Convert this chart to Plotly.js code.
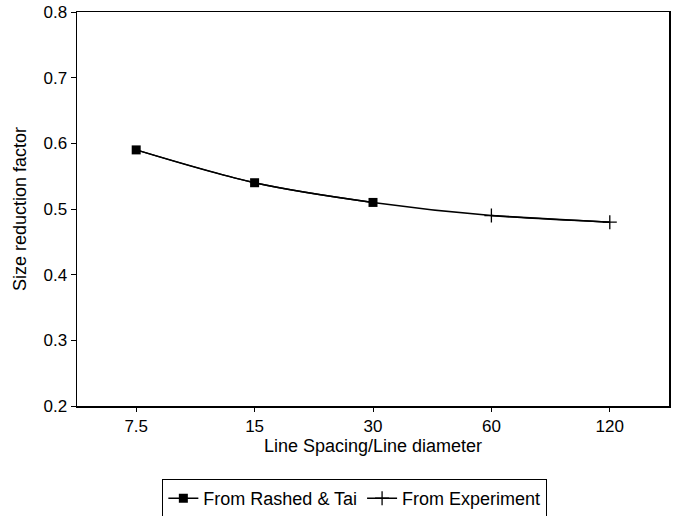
<!DOCTYPE html>
<html>
<head>
<meta charset="utf-8">
<script src="https://cdn.plot.ly/plotly-3.0.1.min.js"></script>
<style>html,body{margin:0;padding:0;background:#fff;}#chart{width:677px;height:516px;}</style>
</head>
<body>
<div id="chart"></div>
<script>
var categories = ["7.5", "15", "30", "60", "120"];
var curveValues = [0.59, 0.54, 0.51, 0.49, 0.48];
var rashedX = ["7.5", "15", "30"];
var rashedY = [0.59, 0.54, 0.51];
var experimentX = ["60", "120"];
var experimentY = [0.49, 0.48];

var font = {family: "Liberation Sans, Arial, sans-serif", size: 18, color: "#000"};
var tickFont = {family: "Liberation Sans, Arial, sans-serif", size: 17, color: "#000"};

var traces = [
  {x: categories, y: curveValues, mode: "lines", line: {color: "#000", width: 1.5, shape: "spline", smoothing: 0.8}, showlegend: false, hoverinfo: "skip"},
  {x: rashedX, y: rashedY, name: "From Rashed & Tai", mode: "lines+markers", line: {color: "#000", width: 1.5, shape: "spline"}, marker: {symbol: "square", size: 9, color: "#000"}},
  {x: experimentX, y: experimentY, name: "From Experiment", mode: "lines+markers", line: {color: "#000", width: 1.5, shape: "spline"}, marker: {symbol: "cross-thin-open", size: 10, color: "#000", line: {color: "#000", width: 1.3}}}
];

var layout = {
  width: 677, height: 516,
  margin: {l: 77, r: 8, t: 12, b: 110},
  paper_bgcolor: "#fff", plot_bgcolor: "#fff",
  font: font,
  xaxis: {
    type: "category", categoryorder: "array", categoryarray: categories,
    range: [-0.5, 4.5], showgrid: false, zeroline: false, automargin: false,
    showline: true, mirror: true, linecolor: "#000", linewidth: 1.5,
    ticks: "outside", ticklen: 4, tickcolor: "#000",
    tickfont: tickFont,
    title: {text: "Line Spacing/Line diameter", font: font, standoff: 2}
  },
  yaxis: {
    range: [0.2, 0.8], dtick: 0.1, tick0: 0.2, tickformat: ".1f",
    showgrid: false, zeroline: false, automargin: false,
    showline: true, mirror: true, linecolor: "#000", linewidth: 1.5,
    ticks: "outside", ticklen: 5, tickcolor: "#000",
    tickfont: tickFont,
    title: {text: "Size reduction factor", font: font, standoff: 12}
  },
  legend: {
    orientation: "h", x: 0.469, xanchor: "center",
    yref: "container", y: 0.072, yanchor: "top",
    bordercolor: "#000", borderwidth: 1.2, font: font, bgcolor: "#fff",
    itemwidth: 30, tracegroupgap: 0
  },
  showlegend: true
};

Plotly.newPlot("chart", traces, layout, {displayModeBar: false, staticPlot: true});
</script>
</body>
</html>
